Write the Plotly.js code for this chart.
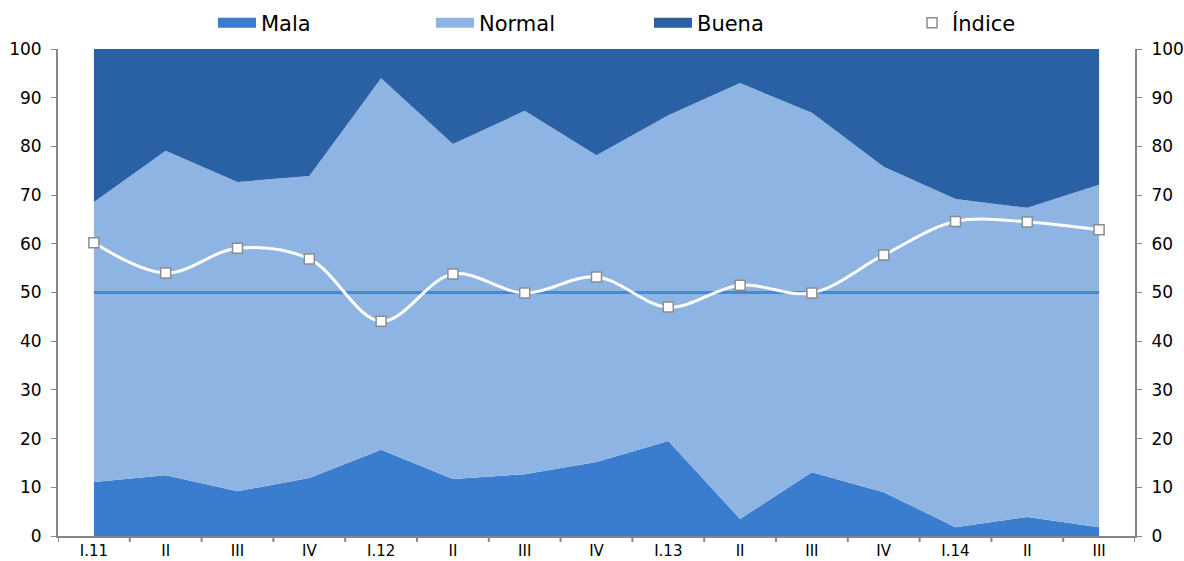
<!DOCTYPE html>
<html>
<head>
<meta charset="utf-8">
<script src="https://cdn.plot.ly/plotly-3.0.1.min.js"></script>
<style>html,body{margin:0;padding:0;background:#fff;}#chart{width:1184px;height:561px;}</style>
</head>
<body>
<div id="chart"></div>
<script>
var periodos = ["I.11","II","III","IV","I.12","II","III","IV","I.13","II","III","IV","I.14","II","III"];
var mala   = [11.1, 12.5, 9.2, 11.9, 17.7, 11.7, 12.7, 15.2, 19.5, 3.5, 13.1, 9.0, 1.8, 3.9, 1.8];
var normal = [57.5, 66.6, 63.5, 62.0, 76.3, 68.8, 74.6, 63.0, 66.9, 89.5, 73.8, 66.8, 67.4, 63.5, 70.3];
var buena  = [31.4, 20.9, 27.3, 26.1, 6.0, 19.5, 12.7, 21.8, 13.6, 7.0, 13.1, 24.2, 30.8, 32.6, 27.9];
var indice = [60.2, 54.0, 59.1, 56.9, 44.1, 53.8, 49.9, 53.2, 47.0, 51.5, 49.9, 57.7, 64.6, 64.5, 62.9];
var referencia = 50;

var colMala = "#3A7DCE", colNormal = "#8EB4E3", colBuena = "#2A61A4";

var xs = periodos.map(function(_, i){ return i; });
var refLine = periodos.map(function(){ return referencia; });

var font = "'DejaVu Sans', Verdana, sans-serif";

var traces = [
  {x: xs, y: mala, name: "Mala", type: "scatter", mode: "lines", stackgroup: "s", showlegend: false,
   line: {width: 0, color: colMala}, fillcolor: colMala},
  {x: xs, y: normal, name: "Normal", type: "scatter", mode: "lines", stackgroup: "s", showlegend: false,
   line: {width: 0, color: colNormal}, fillcolor: colNormal},
  {x: xs, y: buena, name: "Buena", type: "scatter", mode: "lines", stackgroup: "s", showlegend: false,
   line: {width: 0, color: colBuena}, fillcolor: colBuena},
  {x: xs, y: refLine, name: "ref", type: "scatter", mode: "lines", showlegend: false,
   line: {width: 3, color: "#4A87D8"}},
  {x: xs, y: indice, name: "Índice", type: "scatter", mode: "lines+markers", legend: "legend2",
   line: {width: 3, color: "#FFFFFF", shape: "spline", smoothing: 1},
   marker: {symbol: "square", size: 10, color: "#FFFFFF", line: {width: 1.5, color: "#8C8C8C"}}},
  // legend-only entries for the areas
  {x: [null], y: [null], name: "Mala", type: "scatter", mode: "lines", line: {width: 13, color: colMala}, hoverinfo: "skip"},
  {x: [null], y: [null], name: "Normal", type: "scatter", mode: "lines", line: {width: 13, color: colNormal}, hoverinfo: "skip"},
  {x: [null], y: [null], name: "Buena", type: "scatter", mode: "lines", line: {width: 13, color: colBuena}, hoverinfo: "skip"},
  {x: [xs[0]], y: [null], yaxis: "y2", showlegend: false, hoverinfo: "skip", type: "scatter", mode: "lines"}
];

var legFont = {family: font, size: 21, color: "#000"};
var legY = 1 - 23 / 561;

var layout = {
  width: 1184, height: 561,
  margin: {l: 58, r: 49, t: 49, b: 25},
  paper_bgcolor: "#fff", plot_bgcolor: "#fff",
  font: {family: font, size: 16, color: "#000"},
  showlegend: true,
  legend: {orientation: "h", x: 0.1439, xanchor: "left", yref: "container", y: legY, yanchor: "middle",
           font: legFont, itemwidth: 38, entrywidth: 165, entrywidthmode: "pixels",
           traceorder: "normal", bgcolor: "rgba(0,0,0,0)"},
  legend2: {orientation: "h", x: 0.793, xanchor: "left", yref: "container", y: legY, yanchor: "middle",
            font: legFont, itemwidth: 30, bgcolor: "rgba(0,0,0,0)"},
  xaxis: {range: [-0.5, 14.5], tickmode: "array", tickvals: xs, ticktext: periodos,
          showgrid: false, zeroline: false, showline: true, linecolor: "#868686", linewidth: 2,
          ticks: "", tickfont: {size: 15}, fixedrange: true},
  yaxis: {range: [0, 100], dtick: 10, showgrid: false, zeroline: false, showline: true,
          linecolor: "#868686", linewidth: 2, ticks: "outside", ticklen: 5, tickcolor: "#868686",
          ticklabelstandoff: 6, tickfont: {size: 17}, fixedrange: true},
  yaxis2: {range: [0, 100], dtick: 10, overlaying: "y", side: "right", showgrid: false, zeroline: false,
           showline: true, linecolor: "#868686", linewidth: 2, ticks: "outside", ticklen: 5,
           tickcolor: "#868686", ticklabelstandoff: 6, tickfont: {size: 17}, fixedrange: true},
  shapes: []
};

// category boundary tick marks on x axis
for (var i = 0; i <= periodos.length; i++) {
  layout.shapes.push({type: "line", xref: "x", yref: "paper", x0: i - 0.5, x1: i - 0.5, y0: 0, y1: -0.012,
                      line: {color: "#868686", width: 2}});
}

Plotly.newPlot("chart", traces, layout, {displayModeBar: false, staticPlot: true});
</script>
</body>
</html>
